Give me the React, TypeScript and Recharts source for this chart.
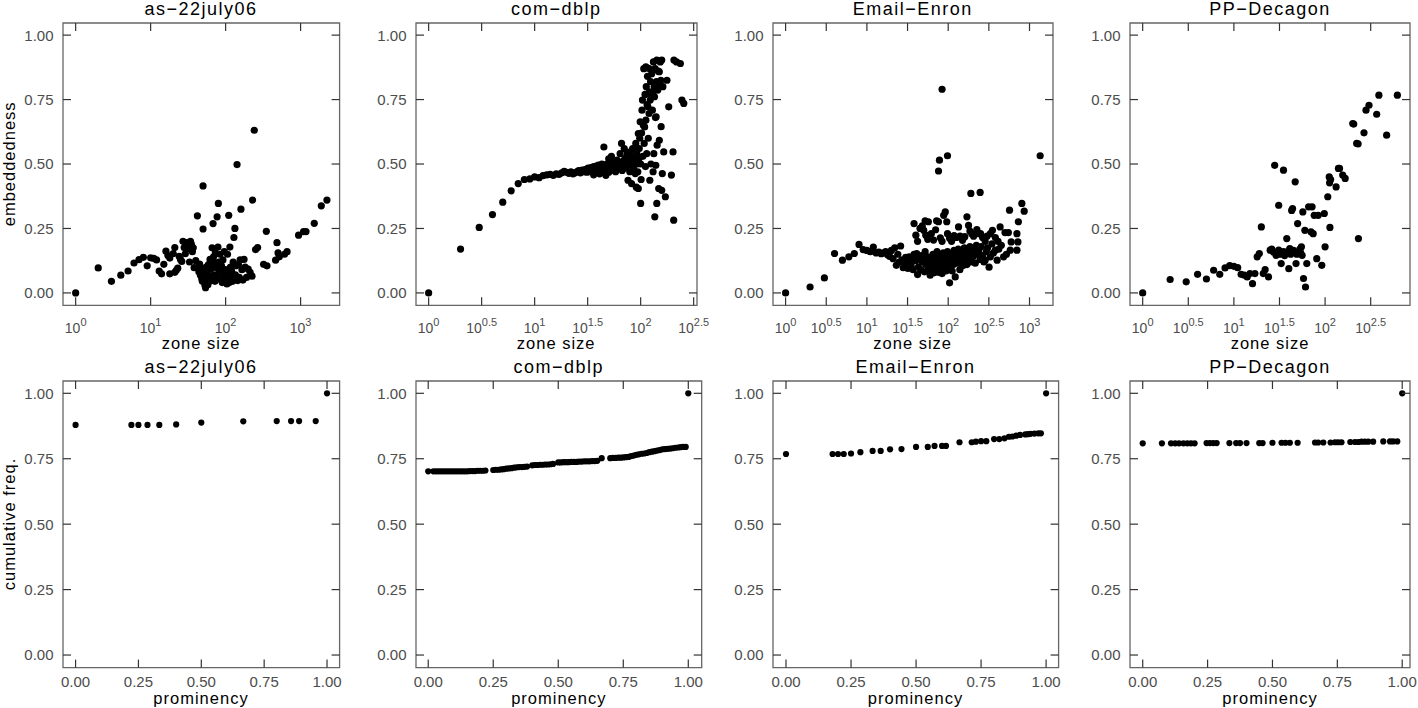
import React from 'react';
import { ScatterChart, Scatter, XAxis, YAxis, ReferenceArea } from 'recharts';

const FONT = '"Liberation Sans", Arial, Helvetica, sans-serif';
const TICK_TEXT = '#4d4d4d';
const TICK_LINE = '#333333';
const BOX_LINE = '#666666';

// ---------- top row: embeddedness vs zone size ([zone size, embeddedness])
const asZonePoints: [number, number][] = [
  [1, 0], [2, 0.097], [3, 0.045], [4, 0.069], [5, 0.085], [6, 0.116], [7, 0.129], [8, 0.138], [9, 0.105], [10, 0.136],
  [11, 0.134], [12, 0.128], [13, 0.085], [14, 0.074], [15, 0.111], [16, 0.162], [17, 0.145], [18, 0.135], [18, 0.074], [20, 0.153],
  [21, 0.176], [21, 0.08], [22, 0.088], [23, 0.096], [24, 0.142], [25, 0.13], [26, 0.122], [27, 0.2], [28, 0.176], [29, 0.152],
  [30, 0.195], [31, 0.17], [32, 0.185], [33, 0.12], [34, 0.2], [35, 0.188], [36, 0.16], [37, 0.175], [38, 0.098], [40, 0.125],
  [42, 0.299], [43, 0.1], [44, 0.082], [45, 0.112], [46, 0.07], [47, 0.095], [48, 0.055], [49, 0.045], [50, 0.248], [50, 0.415],
  [51, 0.088], [52, 0.062], [53, 0.03], [54, 0.02], [55, 0.1], [56, 0.05], [57, 0.075], [58, 0.032], [59, 0.11], [60, 0.065],
  [61, 0.045], [62, 0.13], [63, 0.092], [64, 0.058], [65, 0.112], [66, 0.175], [68, 0.269], [69, 0.14], [70, 0.07], [71, 0.118],
  [72, 0.045], [73, 0.155], [75, 0.098], [77, 0.295], [78, 0.062], [79, 0.178], [80, 0.347], [81, 0.12], [82, 0.085], [84, 0.15],
  [86, 0.052], [88, 0.105], [90, 0.04], [92, 0.128], [94, 0.068], [96, 0.16], [99, 0.09], [102, 0.055], [104, 0.035], [106, 0.15],
  [108, 0.075], [110, 0.301], [112, 0.04], [114, 0.178], [116, 0.1], [118, 0.062], [120, 0.085], [124, 0.045], [126, 0.12], [129, 0.215],
  [133, 0.25], [135, 0.07], [138, 0.105], [142, 0.498], [145, 0.048], [148, 0.11], [152, 0.06], [156, 0.128], [160, 0.325], [165, 0.09],
  [170, 0.05], [176, 0.13], [182, 0.1], [190, 0.06], [200, 0.092], [212, 0.08], [225, 0.065], [229, 0.36], [241, 0.631], [251, 0.168],
  [267, 0.176], [321, 0.111], [356, 0.105], [349, 0.239], [464, 0.127], [484, 0.195], [500, 0.155], [520, 0.14], [610, 0.15], [660, 0.16],
  [940, 0.224], [1096, 0.238], [1180, 0.238], [1521, 0.27], [1888, 0.338], [2245, 0.36],
];

const dblpZonePoints: [number, number][] = [
  [1, 0], [2, 0.17], [3, 0.254], [4, 0.304], [5, 0.352], [6, 0.396], [7, 0.424], [8, 0.44], [9, 0.442], [10, 0.45],
  [11, 0.447], [12, 0.455], [13, 0.458], [14, 0.46], [15, 0.456], [16, 0.462], [17, 0.46], [18, 0.466], [19, 0.472], [20, 0.468],
  [21, 0.464], [22, 0.47], [23, 0.462], [24, 0.466], [25, 0.47], [26, 0.474], [27, 0.466], [28, 0.476], [29, 0.47], [30, 0.478],
  [31, 0.48], [31, 0.468], [32, 0.484], [33, 0.47], [34, 0.486], [34, 0.474], [35, 0.48], [36, 0.458], [36, 0.49], [37, 0.476],
  [38, 0.492], [38, 0.47], [39, 0.484], [40, 0.478], [40, 0.496], [41, 0.462], [42, 0.488], [43, 0.5], [44, 0.474], [45, 0.49],
  [45, 0.566], [46, 0.482], [47, 0.456], [48, 0.5], [48, 0.478], [49, 0.49], [50, 0.52], [50, 0.468], [51, 0.496], [52, 0.486],
  [53, 0.53], [54, 0.476], [55, 0.5], [56, 0.49], [57, 0.51], [58, 0.47], [59, 0.495], [60, 0.515], [61, 0.482], [62, 0.505],
  [63, 0.49], [64, 0.54], [65, 0.5], [66, 0.58], [67, 0.475], [68, 0.51], [69, 0.49], [70, 0.56], [71, 0.52], [72, 0.5],
  [73, 0.485], [74, 0.53], [75, 0.545], [76, 0.437], [77, 0.5], [78, 0.525], [79, 0.47], [80, 0.547], [81, 0.51], [82, 0.424],
  [83, 0.495], [84, 0.56], [85, 0.52], [86, 0.48], [87, 0.5], [88, 0.528], [89, 0.463], [90, 0.58], [91, 0.41], [92, 0.54],
  [93, 0.5], [94, 0.47], [95, 0.618], [95, 0.405], [96, 0.52], [97, 0.56], [98, 0.6], [99, 0.664], [100, 0.347], [100, 0.5],
  [101, 0.44], [102, 0.62], [103, 0.709], [104, 0.748], [105, 0.53], [106, 0.65], [107, 0.87], [108, 0.58], [109, 0.644], [110, 0.77],
  [111, 0.49], [112, 0.877], [112, 0.67], [113, 0.8], [114, 0.54], [115, 0.73], [116, 0.84], [117, 0.722], [118, 0.6], [119, 0.871],
  [120, 0.696], [121, 0.78], [122, 0.437], [123, 0.748], [124, 0.82], [125, 0.5], [126, 0.76], [127, 0.85], [128, 0.864], [129, 0.709],
  [130, 0.774], [131, 0.47], [132, 0.896], [133, 0.54], [134, 0.8], [135, 0.761], [136, 0.295], [137, 0.87], [138, 0.68], [139, 0.495],
  [140, 0.683], [141, 0.82], [142, 0.903], [142, 0.347], [143, 0.573], [145, 0.787], [147, 0.86], [148, 0.405], [150, 0.858], [150, 0.592],
  [152, 0.81], [153, 0.896], [155, 0.825], [156, 0.645], [158, 0.903], [158, 0.398], [160, 0.463], [162, 0.8], [165, 0.547], [171, 0.373],
  [177, 0.825], [184, 0.722], [195, 0.457], [202, 0.547], [205, 0.282], [206, 0.903], [218, 0.896], [237, 0.89], [245, 0.748], [255, 0.735],
];

const enronZonePoints: [number, number][] = [
  [1, 0], [2, 0.023], [3, 0.058], [4, 0.153], [5, 0.127], [6, 0.14], [7, 0.153], [8, 0.188], [9, 0.168], [10, 0.165],
  [11, 0.16], [12, 0.178], [13, 0.155], [14, 0.158], [15, 0.152], [16, 0.155], [17, 0.16], [18, 0.148], [19, 0.142], [20, 0.165],
  [21, 0.133], [22, 0.175], [23, 0.107], [24, 0.15], [25, 0.12], [26, 0.182], [27, 0.128], [28, 0.098], [29, 0.112], [30, 0.138],
  [38, 0.269], [40, 0.224], [42, 0.2], [45, 0.25], [48, 0.26], [50, 0.243], [52, 0.28], [53, 0.224], [56, 0.208], [57, 0.276],
  [62, 0.23], [66, 0.205], [70, 0.245], [72, 0.28], [76, 0.276], [80, 0.214], [84, 0.2], [88, 0.301], [92, 0.314], [96, 0.276],
  [98, 0.23], [104, 0.212], [110, 0.2], [118, 0.222], [126, 0.215], [134, 0.256], [140, 0.22], [150, 0.204], [160, 0.218], [170, 0.295],
  [178, 0.262], [185, 0.24], [195, 0.23], [205, 0.22], [225, 0.246], [240, 0.23], [250, 0.23], [265, 0.215], [285, 0.2], [300, 0.22],
  [330, 0.23], [350, 0.243], [380, 0.215], [410, 0.2], [435, 0.256], [500, 0.234], [550, 0.234], [568, 0.321], [595, 0.198], [700, 0.23],
  [730, 0.276], [805, 0.347], [860, 0.317],
  [76, 0.473], [78, 0.515], [84, 0.79], [98, 0.532], [190, 0.386], [247, 0.39], [1352, 0.532],
  [31, 0.12], [32, 0.095], [33, 0.14], [35, 0.105], [36, 0.13], [37, 0.09], [38, 0.15], [40, 0.125],
  [41, 0.153], [42, 0.071], [43, 0.1], [44, 0.135], [46, 0.09], [47, 0.145], [48, 0.12], [50, 0.13],
  [51, 0.082], [52, 0.16], [53, 0.11], [55, 0.125], [56, 0.14], [57, 0.1], [59, 0.085], [60, 0.069],
  [61, 0.13], [62, 0.105], [64, 0.09], [65, 0.15], [66, 0.11], [67, 0.078], [69, 0.1], [70, 0.14],
  [71, 0.115], [72, 0.09], [73, 0.16], [75, 0.12], [76, 0.08], [77, 0.135], [79, 0.115], [80, 0.13],
  [81, 0.095], [82, 0.14], [84, 0.075], [85, 0.125], [86, 0.1], [87, 0.155], [89, 0.09], [90, 0.13],
  [91, 0.105], [92, 0.145], [94, 0.085], [95, 0.11], [96, 0.135], [98, 0.16], [99, 0.118], [100, 0.09],
  [102, 0.13], [104, 0.039], [105, 0.11], [107, 0.15], [110, 0.125], [112, 0.085], [114, 0.14], [116, 0.11], [118, 0.165],
  [120, 0.12], [122, 0.062], [124, 0.135], [128, 0.15], [130, 0.115], [133, 0.17], [136, 0.13], [139, 0.09], [142, 0.145],
  [145, 0.12], [148, 0.16], [151, 0.105], [155, 0.14], [158, 0.175], [162, 0.125], [166, 0.15], [170, 0.11], [175, 0.165], [180, 0.135],
  [185, 0.18], [190, 0.12], [196, 0.155], [202, 0.14], [208, 0.17], [215, 0.115], [222, 0.185], [230, 0.15], [238, 0.165], [246, 0.13],
  [255, 0.18], [265, 0.145], [275, 0.12], [285, 0.127], [295, 0.16], [305, 0.175], [318, 0.1], [330, 0.14], [345, 0.19], [360, 0.155],
  [380, 0.166], [400, 0.127], [420, 0.17], [450, 0.185], [480, 0.14], [520, 0.15], [580, 0.166], [700, 0.166], [720, 0.198],
];

const decagonZonePoints: [number, number][] = [
  [1, 0], [2, 0.052], [3, 0.043], [4, 0.072], [5, 0.054], [6, 0.088], [7, 0.072], [8, 0.097], [9, 0.106], [10, 0.103],
  [11, 0.098], [12, 0.072], [13, 0.069], [14, 0.062], [15, 0.075], [16, 0.036], [17, 0.075], [18, 0.14], [19, 0.153], [20, 0.256],
  [21, 0.075], [22, 0.09], [24, 0.062], [25, 0.166], [26, 0.17], [27, 0.159], [28, 0.495], [29, 0.146], [30, 0.152], [31, 0.34],
  [31, 0.166], [32, 0.15], [33, 0.114], [34, 0.155], [35, 0.476], [35, 0.16], [36, 0.145], [38, 0.211], [39, 0.16], [40, 0.094],
  [41, 0.172], [42, 0.15], [43, 0.32], [44, 0.327], [45, 0.165], [47, 0.431], [48, 0.114], [49, 0.15], [50, 0.269], [52, 0.16],
  [53, 0.17], [54, 0.155], [55, 0.179], [56, 0.146], [57, 0.314], [58, 0.056], [60, 0.243], [61, 0.023], [63, 0.114], [66, 0.334],
  [70, 0.237], [72, 0.334], [74, 0.23], [76, 0.301], [81, 0.133], [84, 0.301], [92, 0.107], [98, 0.308], [100, 0.179], [107, 0.373],
  [111, 0.45], [112, 0.427], [113, 0.254], [115, 0.44], [132, 0.411], [140, 0.483], [144, 0.483], [156, 0.457], [166, 0.444], [201, 0.657],
  [206, 0.655], [222, 0.58], [230, 0.578], [232, 0.211], [267, 0.621], [281, 0.709], [303, 0.728], [368, 0.693], [389, 0.767], [473, 0.612],
  [620, 0.767],
];

// ---------- bottom row: cumulative freq. vs prominency ([prominency, cumulative freq.])
const asPromPoints: [number, number][] = [
  [0, 0.879], [0.222, 0.879], [0.25, 0.879], [0.286, 0.879], [0.333, 0.879], [0.4, 0.881], [0.5, 0.888],
  [0.667, 0.893], [0.8, 0.894], [0.857, 0.894], [0.889, 0.894], [0.955, 0.894], [1, 1],
];

const dblpPromPoints: [number, number][] = [
  [0, 0.702], [0.02, 0.702], [0.03, 0.702], [0.04, 0.702], [0.05, 0.702], [0.06, 0.702], [0.07, 0.702], [0.08, 0.702], [0.09, 0.702], [0.1, 0.702],
  [0.11, 0.702], [0.12, 0.702], [0.13, 0.702], [0.14, 0.702], [0.15, 0.702], [0.16, 0.703], [0.17, 0.703], [0.18, 0.703], [0.19, 0.704], [0.2, 0.704],
  [0.21, 0.704], [0.22, 0.705], [0.25, 0.707], [0.26, 0.708], [0.27, 0.708], [0.28, 0.709], [0.29, 0.71], [0.3, 0.712], [0.31, 0.713], [0.32, 0.714],
  [0.33, 0.716], [0.34, 0.717], [0.35, 0.718], [0.36, 0.718], [0.37, 0.719], [0.38, 0.72], [0.4, 0.725], [0.41, 0.726], [0.42, 0.726], [0.43, 0.727],
  [0.44, 0.727], [0.45, 0.728], [0.46, 0.728], [0.47, 0.729], [0.48, 0.73], [0.5, 0.736], [0.51, 0.736], [0.52, 0.737], [0.53, 0.737], [0.54, 0.737],
  [0.55, 0.738], [0.56, 0.738], [0.57, 0.738], [0.58, 0.739], [0.59, 0.739], [0.6, 0.74], [0.61, 0.74], [0.62, 0.74], [0.63, 0.741], [0.64, 0.741],
  [0.65, 0.742], [0.667, 0.752], [0.7, 0.752], [0.71, 0.753], [0.72, 0.753], [0.73, 0.754], [0.74, 0.754], [0.75, 0.755], [0.76, 0.756], [0.77, 0.757],
  [0.78, 0.76], [0.79, 0.762], [0.8, 0.765], [0.81, 0.767], [0.82, 0.769], [0.83, 0.77], [0.84, 0.772], [0.85, 0.775], [0.86, 0.777], [0.87, 0.779],
  [0.88, 0.781], [0.89, 0.783], [0.9, 0.786], [0.91, 0.787], [0.92, 0.788], [0.93, 0.789], [0.94, 0.79], [0.95, 0.792], [0.96, 0.793], [0.97, 0.794],
  [0.98, 0.795], [0.99, 0.795], [1, 1],
];

const enronPromPoints: [number, number][] = [
  [0, 0.768], [0.179, 0.768], [0.2, 0.768], [0.222, 0.768], [0.25, 0.77], [0.286, 0.775], [0.333, 0.78], [0.364, 0.78], [0.4, 0.786],
  [0.444, 0.787], [0.5, 0.795], [0.545, 0.795], [0.571, 0.799], [0.6, 0.799], [0.615, 0.799], [0.667, 0.813], [0.714, 0.813],
  [0.73, 0.815], [0.75, 0.817], [0.77, 0.817], [0.8, 0.825], [0.82, 0.825], [0.84, 0.828], [0.857, 0.834], [0.87, 0.835],
  [0.885, 0.838], [0.9, 0.841], [0.92, 0.843], [0.93, 0.844], [0.94, 0.845], [0.955, 0.846], [0.97, 0.847], [0.98, 0.847], [1, 1],
];

const decagonPromPoints: [number, number][] = [
  [0, 0.809], [0.074, 0.809], [0.109, 0.809], [0.125, 0.809], [0.14, 0.809], [0.157, 0.809], [0.172, 0.809], [0.186, 0.809],
  [0.2, 0.809], [0.246, 0.81], [0.259, 0.81], [0.272, 0.81], [0.285, 0.81], [0.334, 0.81], [0.36, 0.81], [0.375, 0.81],
  [0.4, 0.81], [0.449, 0.81], [0.462, 0.81], [0.5, 0.811], [0.535, 0.811], [0.55, 0.811], [0.567, 0.811], [0.597, 0.811],
  [0.664, 0.812], [0.676, 0.812], [0.696, 0.812], [0.724, 0.812], [0.741, 0.813], [0.753, 0.813], [0.766, 0.813], [0.8, 0.814],
  [0.818, 0.814], [0.831, 0.814], [0.843, 0.815], [0.856, 0.815], [0.869, 0.815], [0.888, 0.815], [0.927, 0.816], [0.953, 0.816],
  [0.965, 0.816], [0.981, 0.816], [1, 1],
];

// ---------- ticks and labels
const yTickValues = [0, 0.25, 0.5, 0.75, 1];
const promTickValues = [0, 0.25, 0.5, 0.75, 1];
const asExponents = [0, 1, 2, 3];
const dblpExponents = [0, 0.5, 1, 1.5, 2, 2.5];
const enronExponents = [0, 0.5, 1, 1.5, 2, 2.5, 3];
const decagonExponents = [0, 0.5, 1, 1.5, 2, 2.5];
const titles = ['as\u221222july06', 'com\u2212dblp', 'Email\u2212Enron', 'PP\u2212Decagon'];

// ---------- layout (page pixels)
const TOP_ROW = { top: 22.7, bottom: 305 };
const BOTTOM_ROW = { top: 380.7, bottom: 667.3 };
const topBoxes = [
  { left: 62.7, right: 339.3 },
  { left: 415.7, right: 696.7 },
  { left: 772.7, right: 1052.7 },
  { left: 1130, right: 1410 },
];
const bottomBoxes = [
  { left: 62.7, right: 339.3 },
  { left: 416, right: 701.7 },
  { left: 772.7, right: 1058.3 },
  { left: 1130, right: 1410 },
];
const topDomains: [number, number][] = [[0.678, 3311], [0.76, 340], [0.7, 1945], [0.726, 853]];
const bottomDomains: [number, number][] = [[-0.05, 1.05], [-0.047, 1.0515], [-0.05, 1.048], [-0.049, 1.03]];
const Y_DOMAIN: [number, number] = [-0.048, 1.047];

type PanelProps = {
  box: { left: number; right: number };
  row: { top: number; bottom: number };
  points: [number, number][];
  xDomain: [number, number];
  exponents?: number[];
  r: number;
};

function Panel({ box, row, points, xDomain, exponents, r }: PanelProps) {
  const w = box.right - box.left;
  const h = row.bottom - row.top;
  // axes get 1px of room (an axis of size 0 is not drawn)
  const m = { top: 30, right: 14, bottom: 49, left: 69 };
  const log = !!exponents;
  const data = points.map(([x, y]) => ({ x, y }));
  const xTicks = log ? exponents!.map((e) => Math.pow(10, e)) : promTickValues;

  const renderXTick = (props: any) => {
    const { x, y, index, payload } = props;
    return (
      <g>
        <line x1={x} x2={x} y1={y} y2={y - 8} stroke={TICK_LINE} strokeWidth={1.2} />
        <line x1={x} x2={x} y1={y - h} y2={y - h + 8} stroke={TICK_LINE} strokeWidth={1.2} />
        {log ? (
          <text x={x} y={y + 28} textAnchor="middle" fill={TICK_TEXT} fontSize={14} fontFamily={FONT}>
            10
            <tspan dy={-7.5} fontSize={11}>{String(exponents![index])}</tspan>
          </text>
        ) : (
          <text x={x} y={y + 19.5} textAnchor="middle" fill={TICK_TEXT} fontSize={15} fontFamily={FONT}>
            {Number(payload.value).toFixed(2)}
          </text>
        )}
      </g>
    );
  };

  const renderYTick = (props: any) => {
    const { x, y, payload } = props;
    return (
      <g>
        <line x1={x} x2={x + 8} y1={y} y2={y} stroke={TICK_LINE} strokeWidth={1.2} />
        <line x1={x + w} x2={x + w - 8} y1={y} y2={y} stroke={TICK_LINE} strokeWidth={1.2} />
        <text x={x - 9.5} y={y} dy="0.36em" textAnchor="end" fill={TICK_TEXT} fontSize={15} fontFamily={FONT}>
          {Number(payload.value).toFixed(2)}
        </text>
      </g>
    );
  };

  return (
    <div style={{ position: 'absolute', left: box.left - m.left - 1, top: row.top - m.top }}>
      <ScatterChart width={w + m.left + 1 + m.right} height={h + m.top + m.bottom + 1} margin={m}>
        <XAxis
          type="number"
          dataKey="x"
          scale={log ? 'log' : 'linear'}
          domain={xDomain}
          ticks={xTicks}
          interval={0}
          allowDataOverflow
          height={1}
          tickSize={0}
          tickMargin={0}
          axisLine={false}
          tickLine={false}
          tick={renderXTick}
        />
        <YAxis
          type="number"
          dataKey="y"
          domain={Y_DOMAIN}
          ticks={yTickValues}
          interval={0}
          allowDataOverflow
          width={1}
          tickSize={0}
          tickMargin={0}
          axisLine={false}
          tickLine={false}
          tick={renderYTick}
        />
        <ReferenceArea
          x1={xDomain[0]}
          x2={xDomain[1]}
          y1={Y_DOMAIN[0]}
          y2={Y_DOMAIN[1]}
          fill="none"
          fillOpacity={0}
          stroke={BOX_LINE}
          strokeWidth={1.3}
          ifOverflow="visible"
        />
        <Scatter
          data={data}
          isAnimationActive={false}
          shape={(p: any) => <circle cx={p.cx} cy={p.cy} r={r} fill="#000" />}
        />
      </ScatterChart>
    </div>
  );
}

export default function App() {
  const topPoints = [asZonePoints, dblpZonePoints, enronZonePoints, decagonZonePoints];
  const topExponents = [asExponents, dblpExponents, enronExponents, decagonExponents];
  const bottomPoints = [asPromPoints, dblpPromPoints, enronPromPoints, decagonPromPoints];

  const titleStyle = { fontFamily: FONT, fontSize: 18, letterSpacing: 1.5, fill: '#000' } as const;
  const axisTitleStyle = { fontFamily: FONT, fontSize: 16.5, letterSpacing: 1, fill: '#000' } as const;
  const topMidY = (TOP_ROW.top + TOP_ROW.bottom) / 2;
  const bottomMidY = (BOTTOM_ROW.top + BOTTOM_ROW.bottom) / 2;

  return (
    <div style={{ position: 'absolute', left: 0, top: 0, width: 1418, height: 708, background: '#fff', overflow: 'hidden' }}>
      {topBoxes.map((box, i) => (
        <Panel key={'t' + i} box={box} row={TOP_ROW} points={topPoints[i]} xDomain={topDomains[i]} exponents={topExponents[i]} r={3.6} />
      ))}
      {bottomBoxes.map((box, i) => (
        <Panel key={'b' + i} box={box} row={BOTTOM_ROW} points={bottomPoints[i]} xDomain={bottomDomains[i]} r={3.1} />
      ))}
      <svg width={1418} height={708} style={{ position: 'absolute', left: 0, top: 0, pointerEvents: 'none' }}>
        {topBoxes.map((box, i) => (
          <g key={'tt' + i}>
            <text x={(box.left + box.right) / 2} y={TOP_ROW.top - 8} textAnchor="middle" {...titleStyle}>{titles[i]}</text>
            <text x={(box.left + box.right) / 2} y={TOP_ROW.bottom + 44} textAnchor="middle" {...axisTitleStyle}>zone size</text>
          </g>
        ))}
        {bottomBoxes.map((box, i) => (
          <g key={'bt' + i}>
            <text x={(box.left + box.right) / 2} y={BOTTOM_ROW.top - 7.4} textAnchor="middle" {...titleStyle}>{titles[i]}</text>
            <text x={(box.left + box.right) / 2} y={BOTTOM_ROW.bottom + 37} textAnchor="middle" {...axisTitleStyle}>prominency</text>
          </g>
        ))}
        <text transform={`translate(15, ${topMidY}) rotate(-90)`} textAnchor="middle" {...axisTitleStyle}>embeddedness</text>
        <text transform={`translate(15, ${bottomMidY}) rotate(-90)`} textAnchor="middle" {...axisTitleStyle}>cumulative freq.</text>
      </svg>
    </div>
  );
}
